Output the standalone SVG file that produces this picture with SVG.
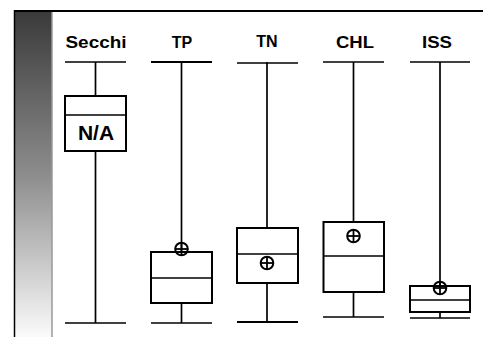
<svg xmlns="http://www.w3.org/2000/svg" width="483" height="337" viewBox="0 0 483 337">
<defs>
<linearGradient id="bar" x1="0" y1="0" x2="0" y2="1">
<stop offset="0" stop-color="#3a3a3a"/>
<stop offset="0.5" stop-color="#8c8c8c"/>
<stop offset="1" stop-color="#fbfbfb"/>
</linearGradient>
<g id="mean">
<circle cx="0" cy="0" r="6.3" fill="none" stroke="#000" stroke-width="2"/>
<line x1="-6.3" y1="0" x2="6.3" y2="0" stroke="#000" stroke-width="1.8"/>
<line x1="0" y1="-6.3" x2="0" y2="6.3" stroke="#000" stroke-width="1.8"/>
</g>
</defs>
<style>
.ln{stroke:#000;stroke-width:1.7;fill:none}
.bx{stroke:#000;stroke-width:2;fill:#fff}
.lbl{font-family:"Liberation Sans",Arial,sans-serif;font-weight:bold;font-size:16px;text-anchor:middle;fill:#000}
</style>
<rect x="0" y="0" width="483" height="337" fill="#fff"/>
<rect x="14" y="11" width="38" height="326" fill="url(#bar)"/>
<line x1="14.5" y1="10" x2="14.5" y2="337" stroke="#000" stroke-width="1.5"/>
<line x1="52" y1="11" x2="52" y2="337" stroke="#999" stroke-width="1.5"/>
<line x1="14" y1="11" x2="483" y2="11" stroke="#000" stroke-width="2"/>

<g id="connectors">
<line class="ln" x1="95.5" y1="62" x2="95.5" y2="96"/>
<line class="ln" x1="95.5" y1="151" x2="95.5" y2="323"/>
<line class="ln" x1="181.5" y1="62" x2="181.5" y2="252"/>
<line class="ln" x1="181.5" y1="303" x2="181.5" y2="323"/>
<line class="ln" x1="267" y1="62" x2="267" y2="228"/>
<line class="ln" x1="267" y1="283" x2="267" y2="322"/>
<line class="ln" x1="353.5" y1="62" x2="353.5" y2="222"/>
<line class="ln" x1="353.5" y1="292" x2="353.5" y2="317"/>
<line class="ln" x1="440" y1="62" x2="440" y2="286"/>
<line class="ln" x1="440" y1="312" x2="440" y2="318"/>
</g>

<g id="secchi">
<text class="lbl" x="96" y="48" textLength="61" lengthAdjust="spacingAndGlyphs">Secchi</text>
<line class="ln" x1="65" y1="62" x2="126" y2="62"/>
<rect class="bx" x="65" y="96" width="61" height="55"/>
<line class="ln" x1="65" y1="115" x2="126" y2="115"/>
<text class="lbl" x="96" y="140" style="font-size:21px">N/A</text>
<line class="ln" x1="65" y1="323" x2="126" y2="323"/>
</g>

<g id="tp">
<text class="lbl" x="182" y="48">TP</text>
<line class="ln" x1="151" y1="62" x2="212" y2="62" style="stroke-width:2.2"/>
<rect class="bx" x="151" y="252" width="61" height="51"/>
<line class="ln" x1="151" y1="278" x2="212" y2="278"/>
<use href="#mean" x="181.5" y="249"/>
<line class="ln" x1="151" y1="323" x2="212" y2="323"/>
</g>

<g id="tn">
<text class="lbl" x="267" y="47">TN</text>
<line class="ln" x1="237" y1="63" x2="298" y2="63"/>
<rect class="bx" x="237" y="228" width="61" height="55"/>
<line class="ln" x1="237" y1="254" x2="298" y2="254"/>
<use href="#mean" x="267" y="263"/>
<line class="ln" x1="237" y1="322" x2="298" y2="322" style="stroke-width:2.2"/>
</g>

<g id="chl">
<text class="lbl" x="355" y="48" textLength="38" lengthAdjust="spacingAndGlyphs">CHL</text>
<line class="ln" x1="323" y1="62" x2="384" y2="62"/>
<rect class="bx" x="323.5" y="222" width="60.5" height="70"/>
<line class="ln" x1="323.5" y1="256" x2="384" y2="256"/>
<use href="#mean" x="353.5" y="236"/>
<line class="ln" x1="323" y1="317" x2="384" y2="317"/>
</g>

<g id="iss">
<text class="lbl" x="437" y="48" textLength="30" lengthAdjust="spacingAndGlyphs">ISS</text>
<line class="ln" x1="410" y1="62" x2="470" y2="62"/>
<rect class="bx" x="410" y="286" width="60" height="26"/>
<line class="ln" x1="410" y1="300" x2="470" y2="300"/>
<use href="#mean" x="440" y="288"/>
<line class="ln" x1="410" y1="318" x2="470" y2="318"/>
</g>
</svg>
